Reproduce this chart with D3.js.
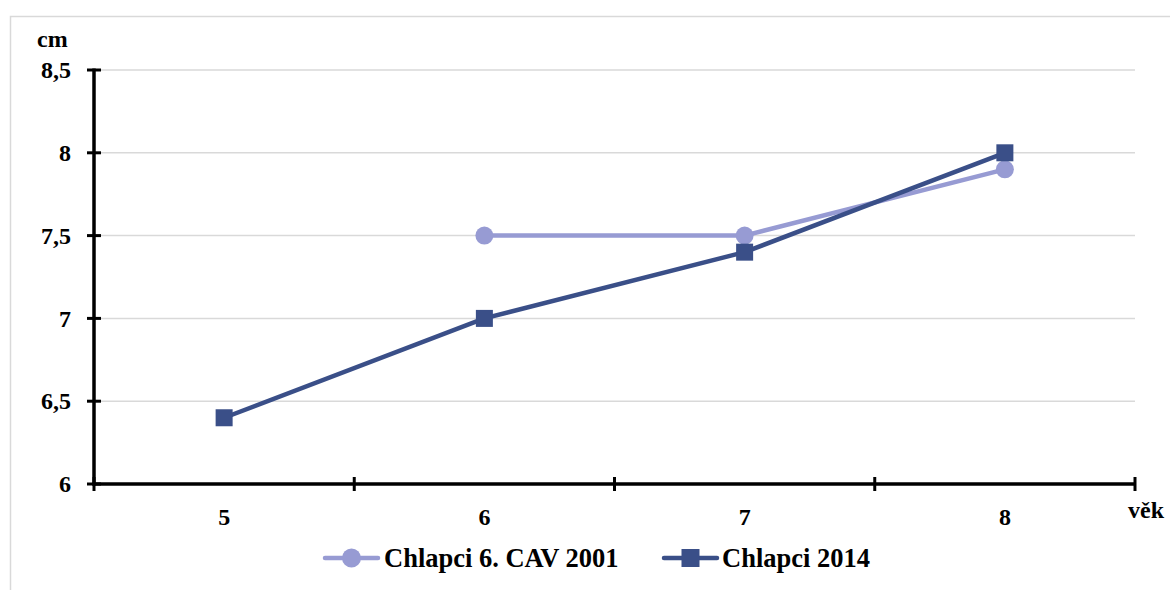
<!DOCTYPE html>
<html>
<head>
<meta charset="utf-8">
<script src="https://cdn.jsdelivr.net/npm/d3@7"></script>
<style>
  html, body { margin: 0; padding: 0; background: #ffffff; }
  svg { display: block; }
  text { font-family: "Liberation Serif", "Times New Roman", serif; font-weight: bold; fill: #000; }
</style>
</head>
<body>
<svg id="chart" width="1170" height="590"></svg>
<script>
// Age categories (years) and measured values (cm)
const ages = [5, 6, 7, 8];
const seriesNames = ["Chlapci 6. CAV 2001", "Chlapci 2014"];
const values2001 = [null, 7.5, 7.5, 7.9];
const values2014 = [6.4, 7.0, 7.4, 8.0];
const yTicks = [6, 6.5, 7, 7.5, 8, 8.5];
const yTickLabels = ["6", "6,5", "7", "7,5", "8", "8,5"];

const colors = ["#979bd3", "#3a4f88"];
const FONT = "'Liberation Serif', 'Times New Roman', serif";

const svg = d3.select("#chart");
const W = 1170, H = 590;
const plot = { left: 94, right: 1135, top: 70, bottom: 484 };

// Outer chart frame
svg.append("rect")
  .attr("x", 10.5).attr("y", 16.5)
  .attr("width", W).attr("height", H)
  .attr("fill", "none").attr("stroke", "#d9d9d9").attr("stroke-width", 1.5);

const x = d3.scaleBand().domain(ages).range([plot.left, plot.right]).padding(0);
const y = d3.scaleLinear().domain([6, 8.5]).range([plot.bottom, plot.top]);

// Horizontal gridlines
svg.append("g").selectAll("line")
  .data(yTicks.filter(d => d > 6))
  .join("line")
  .attr("x1", plot.left).attr("x2", plot.right)
  .attr("y1", d => y(d)).attr("y2", d => y(d))
  .attr("stroke", "#d9d9d9").attr("stroke-width", 1.5);

// Y axis
const yAxis = svg.append("g").attr("transform", `translate(${plot.left},0)`)
  .call(d3.axisLeft(y).tickValues(yTicks).tickFormat((d, i) => yTickLabels[i]).tickSize(0).tickPadding(23));
yAxis.attr("font-family", null).attr("font-size", null);
yAxis.select(".domain").remove();
yAxis.selectAll("text").style("font-size", "24px").style("font-family", FONT).style("font-weight", "bold").attr("fill", "#000");
svg.append("g").selectAll("line").data(yTicks).join("line")
  .attr("x1", plot.left - 7).attr("x2", plot.left + 7)
  .attr("y1", d => y(d)).attr("y2", d => y(d))
  .attr("stroke", "#000").attr("stroke-width", 3);
svg.append("line")
  .attr("x1", plot.left).attr("x2", plot.left)
  .attr("y1", y(8.5) - 1.5).attr("y2", plot.bottom + 1.5)
  .attr("stroke", "#000").attr("stroke-width", 3.5);

// X axis
const xAxis = svg.append("g").attr("transform", `translate(0,${plot.bottom})`)
  .call(d3.axisBottom(x).tickSize(0).tickPadding(24));
xAxis.attr("font-family", null).attr("font-size", null);
xAxis.select(".domain").remove();
xAxis.selectAll("text").style("font-size", "24px").style("font-family", FONT).style("font-weight", "bold").attr("fill", "#000");
const xBounds = ages.map(a => x(a)).concat([x(ages[ages.length - 1]) + x.bandwidth()]);
svg.append("g").selectAll("line").data(xBounds).join("line")
  .attr("x1", d => d).attr("x2", d => d)
  .attr("y1", plot.bottom - 7).attr("y2", plot.bottom + 7)
  .attr("stroke", "#000").attr("stroke-width", 3);
svg.append("line")
  .attr("x1", plot.left - 1.5).attr("x2", plot.right)
  .attr("y1", plot.bottom).attr("y2", plot.bottom)
  .attr("stroke", "#000").attr("stroke-width", 3.5);

// Axis titles
svg.append("text").attr("x", 37).attr("y", 47).style("font-size", "24px").text("cm");
svg.append("text").attr("x", 1128).attr("y", 518).style("font-size", "24px").text("věk");

const cx = a => x(a) + x.bandwidth() / 2;
const line = d3.line()
  .defined(d => d.v !== null)
  .x(d => cx(d.a)).y(d => y(d.v));

const s2001 = ages.map((a, i) => ({ a, v: values2001[i] }));
const s2014 = ages.map((a, i) => ({ a, v: values2014[i] }));

// Series 2001: circles
svg.append("path").datum(s2001)
  .attr("d", line).attr("fill", "none")
  .attr("stroke", colors[0]).attr("stroke-width", 4.5).attr("stroke-linejoin", "round").attr("stroke-linecap", "round");
svg.append("g").selectAll("circle").data(s2001.filter(d => d.v !== null)).join("circle")
  .attr("cx", d => cx(d.a)).attr("cy", d => y(d.v)).attr("r", 9)
  .attr("fill", colors[0]);

// Series 2014: squares
svg.append("path").datum(s2014)
  .attr("d", line).attr("fill", "none")
  .attr("stroke", colors[1]).attr("stroke-width", 4.5).attr("stroke-linejoin", "round").attr("stroke-linecap", "round");
svg.append("g").selectAll("rect").data(s2014).join("rect")
  .attr("x", d => cx(d.a) - 8.5).attr("y", d => y(d.v) - 8.5)
  .attr("width", 17).attr("height", 17)
  .attr("fill", colors[1]);

// Legend
const legendY = 558;
const legendItems = [
  { name: seriesNames[0], color: colors[0], x0: 325, shape: "circle", tx: 384 },
  { name: seriesNames[1], color: colors[1], x0: 664, shape: "square", tx: 722 }
];
const lg = svg.append("g");
legendItems.forEach(it => {
  lg.append("line")
    .attr("x1", it.x0).attr("x2", it.x0 + 53)
    .attr("y1", legendY).attr("y2", legendY)
    .attr("stroke", it.color).attr("stroke-width", 4.5).attr("stroke-linecap", "round");
  const mx = it.x0 + 26.5;
  if (it.shape === "circle") {
    lg.append("circle").attr("cx", mx).attr("cy", legendY).attr("r", 9.5).attr("fill", it.color);
  } else {
    lg.append("rect").attr("x", mx - 9).attr("y", legendY - 9)
      .attr("width", 18).attr("height", 18).attr("fill", it.color);
  }
  lg.append("text").attr("x", it.tx).attr("y", legendY + 9)
    .style("font-size", "26.5px").text(it.name);
});
</script>
</body>
</html>
